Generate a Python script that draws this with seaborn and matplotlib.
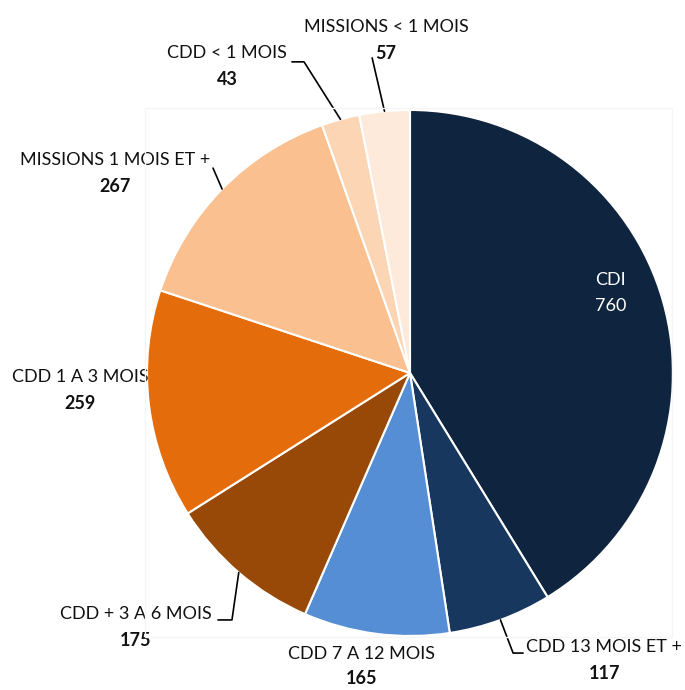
import numpy as np
import matplotlib
matplotlib.use("Agg")
import matplotlib.pyplot as plt
import seaborn as sns
from matplotlib.patches import Rectangle

# données du graphique (sens horaire depuis midi)
categories = ["CDI", "CDD 13 MOIS ET +", "CDD 7 A 12 MOIS", "CDD + 3 A 6 MOIS",
              "CDD 1 A 3 MOIS", "MISSIONS 1 MOIS ET +", "CDD < 1 MOIS", "MISSIONS < 1 MOIS"]
valeurs = [760, 117, 165, 175, 259, 267, 43, 57]
couleurs = ["#0F243E", "#17375E", "#558ED5", "#984807",
            "#E46C0A", "#FAC090", "#FCD5B5", "#FDEADA"]

sns.set_theme(style="white")
plt.rcParams['font.family'] = ['Lato', 'DejaVu Sans']

fig = plt.figure(figsize=(6.85, 6.9), dpi=100)
fig.patch.set_facecolor("white")

# cadre très léger de la zone de tracé
fig.patches.append(Rectangle((145 / 685, 1 - 637 / 690), 527 / 685, 529 / 690,
                             transform=fig.transFigure, fill=False,
                             edgecolor="#F5F5F5", linewidth=1))

ax = fig.add_axes([0.2146, 0.0783, 0.7679, 0.7623])
wedges, _ = ax.pie(valeurs, colors=couleurs, startangle=90, counterclock=False,
                   radius=1, wedgeprops=dict(edgecolor="white", linewidth=1.5))
ax.set_xlim(-1, 1)
ax.set_ylim(-1, 1)
ax.set_aspect("equal")
ax.axis("off")

# position des étiquettes (unités du camembert) et coudes des lignes de rappel
pos_label = {
    "CDI": (0.764, 0.354),
    "CDD 13 MOIS ET +": (0.738, -1.042),
    "CDD 7 A 12 MOIS": (-0.186, -1.068),
    "CDD + 3 A 6 MOIS": (-1.042, -0.916),
    "CDD 1 A 3 MOIS": (-1.255, -0.015),
    "MISSIONS 1 MOIS ET +": (-1.122, 0.810),
    "CDD < 1 MOIS": (-0.696, 1.217),
    "MISSIONS < 1 MOIS": (-0.091, 1.316),
}
lignes = {
    "CDD 13 MOIS ET +": [(0.392, -1.065), (0.430, -1.065)],
    "CDD + 3 A 6 MOIS": [(-0.677, -0.939), (-0.730, -0.939)],
    "MISSIONS 1 MOIS ET +": [(-0.749, 0.779)],
    "CDD < 1 MOIS": [(-0.403, 1.183), (-0.449, 1.183)],
    "MISSIONS < 1 MOIS": [(-0.144, 1.198)],
}

fs = 13
for w, cat, val in zip(wedges, categories, valeurs):
    x, y = pos_label[cat]
    coul = "white" if cat == "CDI" else "#111111"
    poids = "normal" if cat == "CDI" else "bold"
    ax.text(x, y, cat, ha="center", va="center", fontsize=fs, color=coul)
    ecart = 0.093 if cat == "CDD 7 A 12 MOIS" else 0.100
    ax.text(x, y - ecart, str(val), ha="center", va="center", fontsize=fs,
            color=coul, fontweight=poids)
    if cat in lignes:
        ang = np.deg2rad((w.theta1 + w.theta2) / 2)
        pts = [(np.cos(ang), np.sin(ang))] + lignes[cat]
        xs, ys = zip(*pts)
        ax.plot(xs, ys, color="black", linewidth=1.2, clip_on=False)

plt.savefig("out.png", dpi=100)
plt.close()
